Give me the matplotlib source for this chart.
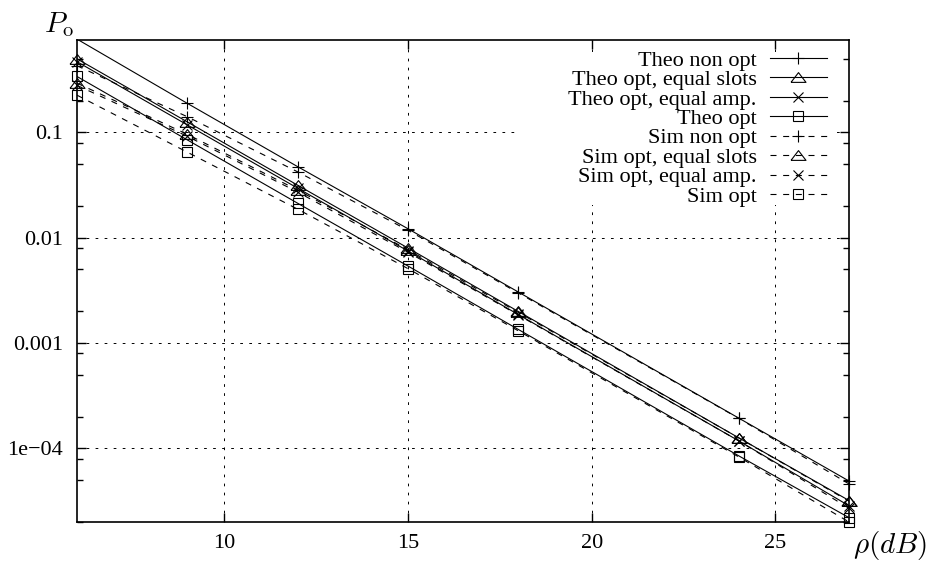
import numpy as np
import matplotlib
matplotlib.use("Agg")
import matplotlib.pyplot as plt
from matplotlib.lines import Line2D
from matplotlib.patches import Rectangle
from matplotlib.ticker import FixedLocator, NullLocator, NullFormatter

plt.rcParams["font.family"] = ["Liberation Serif", "DejaVu Serif"]
plt.rcParams["font.size"] = 16
plt.rcParams["mathtext.fontset"] = "cm"

# rho (dB)
snr = [6, 9, 12, 15, 18, 24, 27]

# outage probability
theo_non_opt  = [0.77, 0.189, 0.0474, 0.0122, 0.00306, 1.94e-4, 4.9e-5]
theo_eq_slots = [0.50, 0.126, 0.0316, 0.0080, 0.00200, 1.26e-4, 3.2e-5]
theo_eq_amp   = [0.47, 0.118, 0.0296, 0.0075, 0.00187, 1.18e-4, 2.85e-5]
theo_opt      = [0.34, 0.085, 0.0213, 0.0054, 0.00135, 8.5e-5, 2.2e-5]
sim_non_opt   = [0.43, 0.141, 0.0423, 0.0118, 0.00300, 1.93e-4, 4.6e-5]
sim_eq_slots  = [0.294, 0.096, 0.0284, 0.0077, 0.00196, 1.26e-4, 3.15e-5]
sim_eq_amp    = [0.28, 0.092, 0.0272, 0.0073, 0.00185, 1.18e-4, 2.7e-5]
sim_opt       = [0.226, 0.065, 0.0187, 0.0051, 0.00131, 8.3e-5, 2.0e-5]

labels = ["Theo non opt", "Theo opt, equal slots", "Theo opt, equal amp.", "Theo opt",
          "Sim non opt", "Sim opt, equal slots", "Sim opt, equal amp.", "Sim opt"]
y_major = [0.1, 0.01, 0.001, 1e-4]
y_major_labels = ["0.1", "0.01", "0.001", "1e\u221204"]
x_major = [10, 15, 20, 25]

# gnuplot style wide triangle
tri = [(-1, -0.65), (1, -0.65), (0, 0.65), (-1, -0.65)]
dash = (0, (5.4, 6))
series = [
    (theo_non_opt, "-", "+", 8),
    (theo_eq_slots, "-", tri, 10.8),
    (theo_eq_amp, "-", "x", 7.5),
    (theo_opt, "-", "s", 7.8),
    (sim_non_opt, dash, "+", 8),
    (sim_eq_slots, dash, tri, 10.8),
    (sim_eq_amp, dash, "x", 7.5),
    (sim_opt, dash, "s", 7.8),
]

ymin, ymax = 2.0e-5, 0.755

fig = plt.figure(figsize=(9.37, 5.63), dpi=100)
ax = fig.add_axes([77 / 937, 41 / 563, 772 / 937, 482 / 563])
ax.set_yscale("log")
ax.set_xlim(6, 27)
ax.set_ylim(ymin, ymax)

handles = []
for (vals, ls, mk, ms), lab in zip(series, labels):
    vals = np.array(vals)
    x = np.array(snr)
    ax.plot(x, vals, color="k", lw=0.8, linestyle=ls, zorder=2)
    # points outside the y range are not drawn (like gnuplot)
    ok = vals <= ymax
    ax.plot(x[ok], vals[ok], linestyle="none", marker=mk, ms=ms, mec="k", mfc="none",
            mew=0.8, clip_on=False, zorder=3)
    handles.append(Line2D([], [], color="k", lw=0.8, linestyle=ls, marker=mk, ms=ms,
                          mec="k", mfc="none", mew=0.8))

ax.set_yticks(y_major, y_major_labels)
ax.yaxis.set_minor_locator(FixedLocator([m * 10.0 ** k for k in range(-5, 0) for m in (2, 5, 8)]))
ax.yaxis.set_minor_formatter(NullFormatter())
ax.set_xticks(x_major)
ax.xaxis.set_minor_locator(NullLocator())

ax.tick_params(which="both", direction="in", top=True, right=True, width=1)
ax.tick_params(which="major", length=6.5)
ax.tick_params(which="minor", length=4)
ax.tick_params(axis="y", pad=10)
ax.tick_params(axis="x", pad=9)
for sp in ax.spines.values():
    sp.set_linewidth(1.2)

ax.set_axisbelow(True)
ax.grid(True, which="major", color="k", lw=0.7, linestyle=(0, (2.8, 6.5)))

# opaque area behind the key
ax.add_patch(Rectangle((0.574, 0.658), 0.409, 0.317, transform=ax.transAxes,
                       facecolor="white", edgecolor="none", zorder=1))

ax.legend(handles, labels, loc="upper right", bbox_to_anchor=(0.9715, 0.979),
          frameon=False, markerfirst=False, handlelength=2.57, handletextpad=0.59,
          labelspacing=-0.05, borderpad=0, borderaxespad=0, fontsize=16)

fig.text(44 / 937, 1 - 32 / 563, r"$P_{\rm o}$", fontsize=21, ha="left", va="baseline")
fig.text(853 / 937, 1 - 553 / 563, r"$\rho(dB)$", fontsize=21, ha="left", va="baseline")

fig.savefig("out.png", dpi=100)
